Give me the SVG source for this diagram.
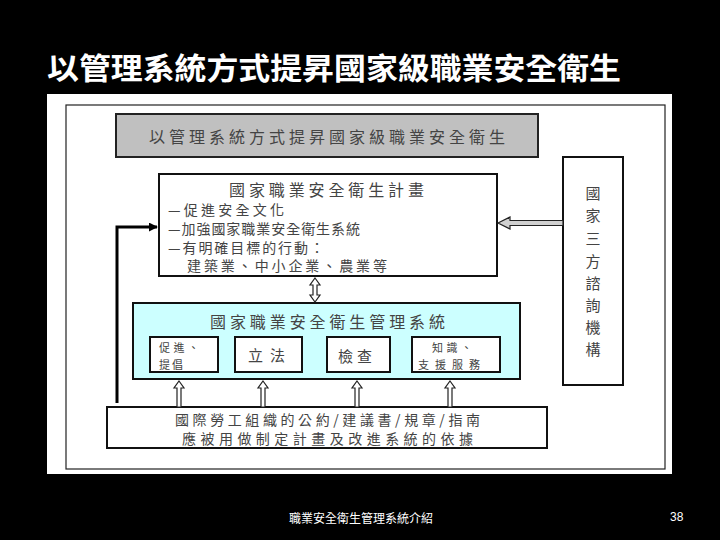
<svg xmlns="http://www.w3.org/2000/svg" width="720" height="540" viewBox="0 0 720 540">
<style>
.t{font-family:"Noto Sans CJK TC","Noto Sans CJK SC",sans-serif;fill:#444;dominant-baseline:central}
.w{font-family:"Noto Sans CJK TC","Noto Sans CJK SC",sans-serif;fill:#fff;dominant-baseline:central}
.box{fill:#fff;stroke:#111;stroke-width:2}
.blk{fill:#fff;stroke:#222;stroke-width:1.2;stroke-linejoin:miter}
</style>
<defs>
<marker id="ah" viewBox="0 0 10 10" refX="9" refY="5" markerWidth="3" markerHeight="3" orient="auto" markerUnits="strokeWidth">
<path d="M0,0 L10,5 L0,10 z" fill="#000"/>
</marker>
</defs>
<rect width="720" height="540" fill="#000"/>
<text class="w" x="47" y="66" font-size="30" font-weight="bold" textLength="574" lengthAdjust="spacingAndGlyphs">以管理系統方式提昇國家級職業安全衛生</text>
<rect x="47" y="94" width="625" height="380" fill="#fff"/>
<rect x="66" y="105" width="599" height="364" fill="none" stroke="#222" stroke-width="1.2"/>

<g id="title-box">
<rect x="116" y="114" width="422" height="43" fill="#c0c0c0" stroke="#222" stroke-width="2"/>
<text class="t" x="149" y="135.5" font-size="16" textLength="356" lengthAdjust="spacing">以管理系統方式提昇國家級職業安全衛生</text>
</g>

<g id="plan">
<rect class="box" x="159" y="174" width="338" height="102"/>
<text class="t" x="229" y="189" font-size="16" textLength="195" lengthAdjust="spacing">國家職業安全衛生計畫</text>
<text class="t" x="168" y="209" font-size="14" textLength="116" lengthAdjust="spacing">—促進安全文化</text>
<text class="t" x="168" y="228" font-size="14" textLength="192" lengthAdjust="spacing">—加強國家職業安全衛生系統</text>
<text class="t" x="168" y="247" font-size="14" textLength="156" lengthAdjust="spacing">—有明確目標的行動：</text>
<text class="t" x="187" y="265" font-size="14" textLength="200" lengthAdjust="spacing">建築業、中小企業、農業等</text>
</g>

<g id="management">
<rect x="133" y="303" width="387" height="76" fill="#ccffff" stroke="#111" stroke-width="2"/>
<text class="t" x="210" y="321" font-size="16" textLength="235" lengthAdjust="spacing">國家職業安全衛生管理系統</text>
</g>

<g id="promote">
<rect class="box" x="150" y="337" width="68" height="35"/>
<text class="t" x="159" y="347" font-size="11" textLength="40" lengthAdjust="spacing">促進、</text>
<text class="t" x="159" y="364" font-size="11" textLength="24" lengthAdjust="spacing">提倡</text>
</g>

<g id="legislation">
<rect class="box" x="235" y="337" width="67" height="35"/>
<text class="t" x="248" y="354" font-size="15" textLength="37" lengthAdjust="spacing">立法</text>
</g>

<g id="inspection">
<rect class="box" x="327" y="337" width="63" height="35"/>
<text class="t" x="338" y="355" font-size="15" textLength="34" lengthAdjust="spacing">檢查</text>
</g>

<g id="knowledge">
<rect class="box" x="412" y="337" width="88" height="35"/>
<text class="t" x="432" y="347" font-size="11" textLength="40" lengthAdjust="spacing">知識、</text>
<text class="t" x="418" y="364" font-size="11" textLength="62" lengthAdjust="spacing">支援服務</text>
</g>

<g id="ilo">
<rect class="box" x="107" y="407" width="440" height="41"/>
<text class="t" x="175" y="419" font-size="14" textLength="305" lengthAdjust="spacing">國際勞工組織的公約/建議書/規章/指南</text>
<text class="t" x="182" y="438" font-size="14" textLength="291" lengthAdjust="spacing">應被用做制定計畫及改進系統的依據</text>
</g>

<g id="tripartite">
<rect class="box" x="563" y="157" width="60" height="228"/>
<text class="t" font-size="15" text-anchor="middle">
<tspan x="593" y="192">國</tspan><tspan x="593" y="214">家</tspan><tspan x="593" y="237">三</tspan><tspan x="593" y="260">方</tspan><tspan x="593" y="282">諮</tspan><tspan x="593" y="304">詢</tspan><tspan x="593" y="326">機</tspan><tspan x="593" y="348">構</tspan>
</text>
</g>

<g id="connectors">
<polygon class="blk" points="315,278 320,285 317,285 317,295 320,295 315,302 310,295 313,295 313,285 310,285"/>
<polygon class="blk" points="179,381 184,388 181,388 181,407 177,407 177,388 174,388"/>
<polygon class="blk" points="263,381 268,388 265,388 265,407 261,407 261,388 258,388"/>
<polygon class="blk" points="357,381 362,388 359,388 359,407 355,407 355,388 352,388"/>
<polygon class="blk" points="450,381 455,388 452,388 452,407 448,407 448,388 445,388"/>
<polygon class="blk" style="fill:#d0d0d0" points="498,223 510,217 510,220.5 563,220.5 563,225.5 510,225.5 510,229"/>
<path d="M117,403 V227 H157" fill="none" stroke="#000" stroke-width="3" marker-end="url(#ah)"/>
</g>

<text class="w" x="289" y="517" font-size="12" textLength="144" lengthAdjust="spacing">職業安全衛生管理系統介紹</text>
<text x="670" y="521" font-size="12" fill="#fff" font-family="Liberation Sans, Arial, sans-serif">38</text>
</svg>
